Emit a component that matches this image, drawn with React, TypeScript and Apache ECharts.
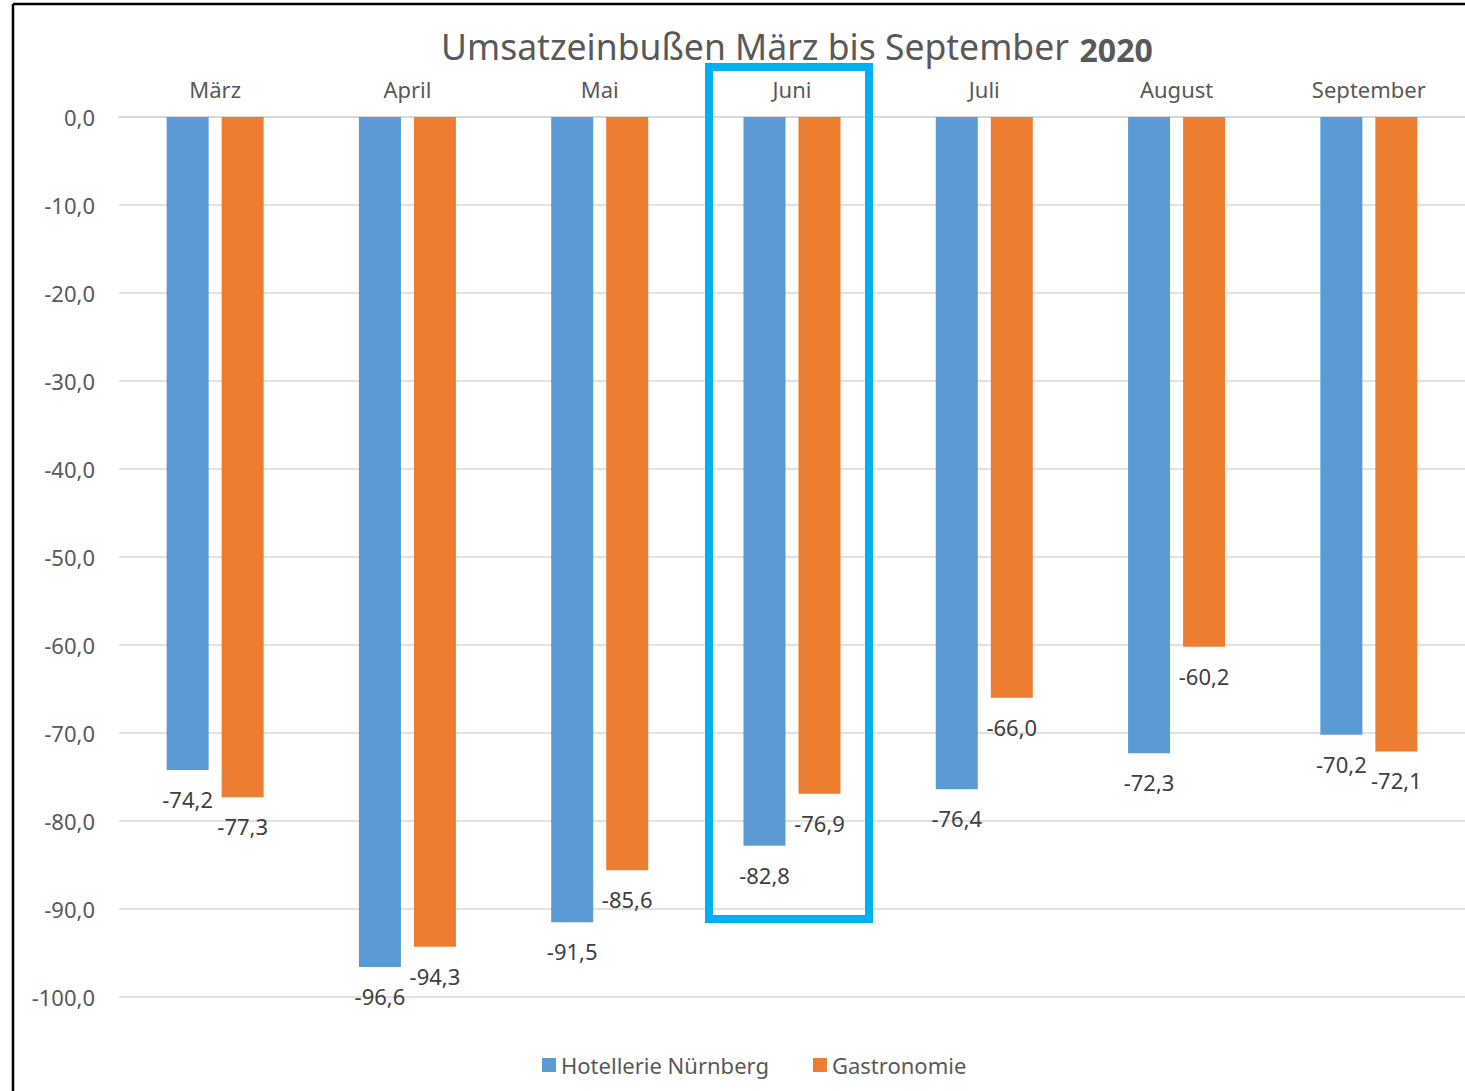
import React, { useEffect, useRef } from "react";
import * as echarts from "echarts";

const months = ["März", "April", "Mai", "Juni", "Juli", "August", "September"];
const hotellerie = [-74.2, -96.6, -91.5, -82.8, -76.4, -72.3, -70.2];
const gastronomie = [-77.3, -94.3, -85.6, -76.9, -66.0, -60.2, -72.1];
const seriesNames = ["Hotellerie Nürnberg", "Gastronomie"];

const FONT = "Noto Sans";
const GRAY = "#595959";
const fmt = (v: number) => v.toFixed(1).replace(".", ",");

export default function App() {
  const ref = useRef<HTMLDivElement>(null);
  useEffect(() => {
    document.body.style.margin = "0";
    const chart = echarts.init(ref.current!, null, { renderer: "svg" });
    const label = {
      show: true,
      position: "bottom" as const,
      distance: 18,
      color: "#404040",
      fontFamily: FONT,
      fontSize: 22,
      formatter: (p: any) => fmt(p.value),
    };
    chart.setOption({
      animation: false,
      backgroundColor: "#fff",
      textStyle: { fontFamily: FONT },
      title: {
        text: "{a|Umsatzeinbußen März bis September} {b|2020}",
        left: 436,
        top: 22,
        textStyle: {
          fontWeight: "normal",
          rich: {
            a: { fontFamily: FONT, fontSize: 35.5, fontWeight: "normal", color: GRAY },
            b: { fontFamily: FONT, fontSize: 32, fontWeight: "bold", color: GRAY, padding: [6, 0, 0, 6] },
          },
        },
      },
      legend: {
        bottom: 10,
        left: 537,
        itemWidth: 14,
        itemHeight: 14,
        itemGap: 44,
        icon: "rect",
        textStyle: { fontFamily: FONT, fontSize: 22, color: GRAY },
        data: seriesNames,
      },
      grid: { left: 119, right: 0, top: 117, bottom: 94, containLabel: false },
      xAxis: {
        type: "category",
        position: "top",
        data: months,
        axisLine: { show: true, lineStyle: { color: "#d9d9d9", width: 2 } },
        axisTick: { show: false },
        axisLabel: { color: GRAY, fontFamily: FONT, fontSize: 22, margin: 17 },
      },
      yAxis: {
        type: "value",
        min: -100,
        max: 0,
        interval: 10,
        axisLine: { show: false },
        axisTick: { show: false },
        splitLine: { lineStyle: { color: "#d9d9d9", width: 1.5 } },
        axisLabel: {
          color: GRAY,
          fontFamily: FONT,
          fontSize: 22,
          margin: 24,
          formatter: (v: number) => fmt(v),
        },
      },
      series: [
        {
          name: seriesNames[0],
          type: "bar",
          data: hotellerie,
          barWidth: 42,
          barGap: "31%",
          itemStyle: { color: "#5B9BD5" },
          label,
        },
        {
          name: seriesNames[1],
          type: "bar",
          data: gastronomie,
          barWidth: 42,
          itemStyle: { color: "#ED7D31" },
          label,
        },
      ],
      graphic: [
        {
          type: "line",
          shape: { x1: 13, y1: 4, x2: 1465, y2: 4 },
          style: { stroke: "#000", lineWidth: 2.5 },
        },
        {
          type: "line",
          shape: { x1: 13, y1: 4, x2: 13, y2: 1091 },
          style: { stroke: "#000", lineWidth: 2.5 },
        },
        {
          type: "rect",
          shape: { x: 709, y: 67, width: 160, height: 852 },
          style: { fill: "none", stroke: "#00B0F0", lineWidth: 8 },
          z: 100,
        },
      ],
    });
    return () => chart.dispose();
  }, []);
  return <div ref={ref} style={{ width: 1465, height: 1091 }} />;
}
